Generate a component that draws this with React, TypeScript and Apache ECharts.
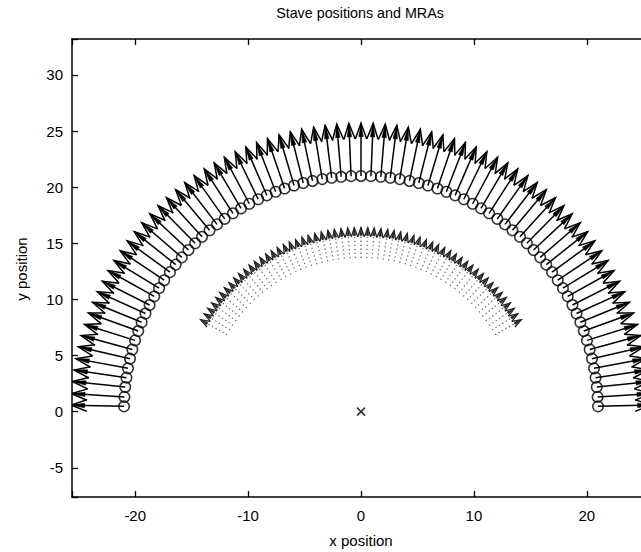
import React, { useEffect, useRef } from 'react';
import * as echarts from 'echarts';

const titleText = 'Stave positions and MRAs';
const xAxisName = 'x position';
const yAxisName = 'y position';
const xTickLabels = [-20, -10, 0, 10, 20];
const yTickLabels = [-5, 0, 5, 10, 15, 20, 25, 30];

// Stave circle positions, read in polar form (angle in degrees, radius)
const staveRadius = 21;
const staveArrowLength = 4.7;
const staveAngleDeg = [
  1.3, 3.6, 6.0, 8.3, 10.6, 13.0, 15.3, 17.6, 20.0, 22.3, 24.6, 26.9, 29.3, 31.6, 33.9, 36.3,
  38.6, 40.9, 43.3, 45.6, 47.9, 50.3, 52.6, 54.9, 57.3, 59.6, 61.9, 64.3, 66.6, 68.9, 71.2,
  73.6, 75.9, 78.2, 80.6, 82.9, 85.2, 87.6, 90.0, 92.4, 94.8, 97.1, 99.4, 101.8, 104.1, 106.4,
  108.8, 111.1, 113.4, 115.7, 118.1, 120.4, 122.7, 125.1, 127.4, 129.7, 132.1, 134.4, 136.7,
  139.1, 141.4, 143.7, 146.1, 148.4, 150.7, 153.1, 155.4, 157.7, 160.0, 162.4, 164.7, 167.0,
  169.4, 171.7, 174.0, 176.4, 178.7,
];

// MRA arrows (inner dotted arc)
const mraTailRadius = 13.7;
const mraHeadRadius = 16.4;
const mraAngleDeg = [
  30.0, 32.1, 34.1, 36.2, 38.3, 40.3, 42.4, 44.5, 46.6, 48.6, 50.7, 52.8, 54.8, 56.9, 59.0,
  61.0, 63.1, 65.2, 67.2, 69.3, 71.4, 73.4, 75.5, 77.6, 79.7, 81.7, 83.8, 85.9, 87.9, 90.0,
  92.1, 94.1, 96.2, 98.3, 100.3, 102.4, 104.5, 106.6, 108.6, 110.7, 112.8, 114.8, 116.9, 119.0,
  121.0, 123.1, 125.2, 127.2, 129.3, 131.4, 133.4, 135.5, 137.6, 139.7, 141.7, 143.8, 145.9,
  147.9, 150.0,
];

const centerMark = [[0, 0]];

const X_MIN = -25.6;
const X_MAX = 25.6;
const Y_MIN = -7.6;
const Y_MAX = 33.2;

const rad = (d: number) => (d * Math.PI) / 180;

const staveData = staveAngleDeg.map((a) => {
  const c = Math.cos(rad(a));
  const s = Math.sin(rad(a));
  return [staveRadius * c, staveRadius * s, (staveRadius + staveArrowLength) * c, (staveRadius + staveArrowLength) * s];
});
const stavePoints = staveData.map((d) => [d[0], d[1]]);
const mraData = mraAngleDeg.map((a) => {
  const c = Math.cos(rad(a));
  const s = Math.sin(rad(a));
  return [mraTailRadius * c, mraTailRadius * s, mraHeadRadius * c, mraHeadRadius * s];
});

function makeArrowRenderer(o: {
  headFrac: number;
  widthFrac: number;
  shaftColor: string;
  shaftWidth: number;
  shaftDash?: number[];
  headColor: string;
  headWidth: number;
  spikeWidth: number;
}) {
  return (params: any, api: any) => {
    const p0 = api.coord([api.value(0), api.value(1)]);
    const p1 = api.coord([api.value(2), api.value(3)]);
    const dx = p1[0] - p0[0];
    const dy = p1[1] - p0[1];
    const L = Math.hypot(dx, dy) || 1;
    const ux = dx / L;
    const uy = dy / L;
    const nx = -uy;
    const ny = ux;
    const hl = L * o.headFrac;
    const hw = hl * o.widthFrac;
    const bx = p1[0] - ux * hl;
    const by = p1[1] - uy * hl;
    const children: any[] = [
      {
        type: 'line',
        shape: { x1: p0[0], y1: p0[1], x2: p1[0], y2: p1[1] },
        style: { stroke: o.shaftColor, lineWidth: o.shaftWidth, lineDash: o.shaftDash || null, fill: null },
      },
      {
        type: 'polyline',
        shape: { points: [[bx + nx * hw, by + ny * hw], [p1[0], p1[1]], [bx - nx * hw, by - ny * hw]] },
        style: { stroke: o.headColor, lineWidth: o.headWidth, fill: null },
      },
    ];
    if (o.spikeWidth > 0) {
      const sl = hl * 0.85;
      const sx = p1[0] - ux * sl;
      const sy = p1[1] - uy * sl;
      const sw = o.spikeWidth;
      children.push({
        type: 'polygon',
        shape: { points: [[p1[0], p1[1]], [sx + nx * sw, sy + ny * sw], [sx - nx * sw, sy - ny * sw]] },
        style: { fill: o.headColor, stroke: o.headColor, lineWidth: 0.6 },
      });
    }
    return { type: 'group', children };
  };
}

const tickFormatter = (list: number[]) => (v: number) =>
  list.some((t) => Math.abs(t - v) < 1e-6) ? String(v) : '';

export default function App() {
  const ref = useRef<HTMLDivElement>(null);
  useEffect(() => {
    if (!ref.current) return;
    const chart = echarts.init(ref.current, undefined, { renderer: 'svg' });
    const font = 'Liberation Sans, Arial, sans-serif';
    const axisCommon = {
      axisLine: { show: true, onZero: false, lineStyle: { color: '#000', width: 1.5 } },
      axisTick: { show: true, inside: true, length: 6, lineStyle: { color: '#000', width: 1.3 } },
      splitLine: { show: false },
    };
    chart.setOption({
      animation: false,
      backgroundColor: '#fff',
      grid: { left: 72, top: 39, width: 578, height: 458, containLabel: false, outerBoundsMode: 'none' },
      xAxis: [
        {
          type: 'value',
          min: X_MIN,
          max: X_MAX,
          splitNumber: 5,
          position: 'bottom',
          ...axisCommon,
          axisLabel: { color: '#000', fontSize: 15, fontFamily: font, margin: 11, formatter: tickFormatter(xTickLabels) },
        },
        {
          type: 'value',
          min: X_MIN,
          max: X_MAX,
          splitNumber: 5,
          position: 'top',
          ...axisCommon,
          axisLabel: { show: false },
        },
      ],
      yAxis: [
        {
          type: 'value',
          min: Y_MIN,
          max: Y_MAX,
          splitNumber: 8,
          position: 'left',
          ...axisCommon,
          axisLabel: { color: '#000', fontSize: 15, fontFamily: font, margin: 9, formatter: tickFormatter(yTickLabels) },
        },
      ],
      graphic: [
        { type: 'text', x: 360, y: 13, style: { text: titleText, fontSize: 14.3, fontFamily: font, fill: '#000', align: 'center', verticalAlign: 'middle' } },
        { type: 'text', x: 361, y: 540, style: { text: xAxisName, fontSize: 15, fontFamily: font, fill: '#000', align: 'center', verticalAlign: 'middle' } },
        {
          type: 'text',
          x: 21,
          y: 269,
          rotation: Math.PI / 2,
          style: { text: yAxisName, fontSize: 15, fontFamily: font, fill: '#000', align: 'center', verticalAlign: 'middle' },
        },
      ],
      series: [
        {
          type: 'custom',
          name: 'MRA',
          coordinateSystem: 'cartesian2d',
          clip: true,
          data: mraData,
          renderItem: makeArrowRenderer({
            headFrac: 0.3,
            widthFrac: 0.35,
            shaftColor: '#6e6e6e',
            shaftWidth: 1.3,
            shaftDash: [1.3, 2.7],
            headColor: '#222',
            headWidth: 1.3,
            spikeWidth: 1.2,
          }),
          z: 2,
        },
        {
          type: 'custom',
          name: 'stave arrows',
          coordinateSystem: 'cartesian2d',
          clip: true,
          data: staveData,
          renderItem: makeArrowRenderer({
            headFrac: 0.3,
            widthFrac: 0.36,
            shaftColor: '#000',
            shaftWidth: 1.5,
            headColor: '#000',
            headWidth: 1.5,
            spikeWidth: 2.2,
          }),
          z: 3,
        },
        {
          type: 'scatter',
          name: 'staves',
          data: stavePoints,
          symbol: 'circle',
          symbolSize: 10.5,
          itemStyle: { color: 'rgba(255,255,255,0)', borderColor: '#000', borderWidth: 1.5 },
          z: 4,
        },
        {
          type: 'scatter',
          name: 'centre',
          data: centerMark,
          symbol: 'path://M0,0L10,10M10,0L0,10',
          symbolSize: 8,
          itemStyle: { color: 'none', borderColor: '#000', borderWidth: 1.6 },
          z: 4,
        },
      ],
    });
    return () => chart.dispose();
  }, []);
  return <div ref={ref} style={{ position: 'fixed', left: 0, top: 0, width: 641, height: 552, background: '#fff' }} />;
}
